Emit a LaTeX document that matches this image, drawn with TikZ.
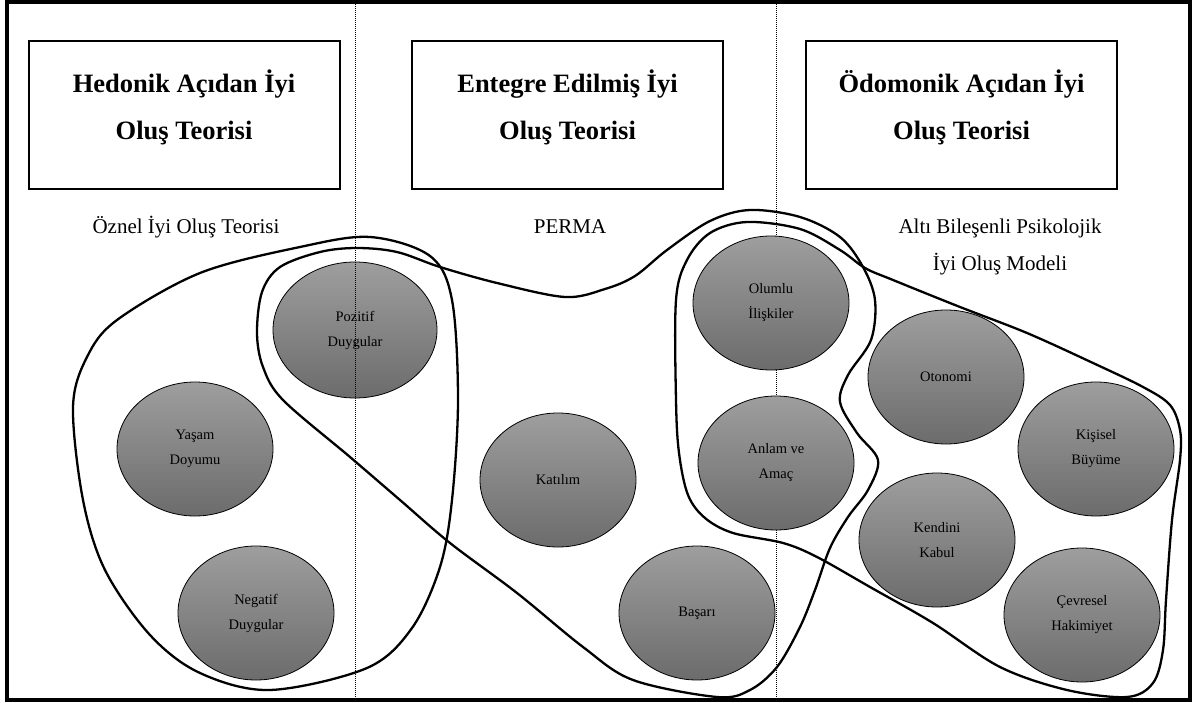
\documentclass[tikz,border=0pt]{standalone}
\usepackage{fontspec}
\setmainfont{Liberation Serif}
\usetikzlibrary{shapes.geometric}
\definecolor{gtop}{RGB}{158,158,158}
\definecolor{gbot}{RGB}{108,108,108}
\begin{document}
\begin{tikzpicture}[x=1pt,y=-1pt,
  titlebox/.style={draw, line width=2pt, minimum width=311pt, minimum height=148pt, inner sep=0pt},
  titletext/.style={font=\fontsize{26.5}{47}\selectfont\bfseries, anchor=base, inner sep=0pt},
  subtext/.style={font=\fontsize{21}{37}\selectfont, anchor=base, inner sep=0pt},
  comp/.style={ellipse, draw, line width=0.8pt, top color=gtop, bottom color=gbot, minimum width=156pt, minimum height=134pt, inner sep=0pt, align=center, font=\fontsize{14.5}{25}\selectfont},
  hull/.style={line width=2.3pt},
  sepline/.style={line width=0.8pt, dash pattern=on 1pt off 1pt}]
\useasboundingbox (0,0) rectangle (1200,703);
% frame
\draw[line width=4pt] (7,2) rectangle (1189.5,700);
% column separators (right one behind ellipses)
\coordinate (s2t) at (776,4);
\coordinate (s2b) at (776,698);
\draw[sepline] (s2t) -- (s2b);
% hulls
\draw[hull] plot[smooth cycle, tension=0.55] coordinates {
 (300,247) (370,237) (430,256) (452,300) (458,400) (452,500) (440,567) (412,628) (367,668) (270,690) (200,673) (150,635) (105,570) (83,500) (73,407) (87,357) (117,320) (200,273)};
\draw[hull] plot[smooth cycle, tension=0.55] coordinates {
 (257,333) (262,292) (280,267) (320,252) (357,248) (397,252) (440,267) (497,283) (565,297) (605,289) (635,276) (667,250) (710,221) (750,210) (800,217) (840,237) (863,267) (875,300) (871,340) (848,375) (840,402) (857,433) (878,460) (868,490) (848,517) (830,548) (815,590) (800,627) (777,667) (750,690) (717,697) (633,680) (583,647) (517,593) (450,543) (400,500) (350,457) (283,400) (263,367)};
\draw[hull] plot[smooth cycle, tension=0.55] coordinates {
 (676,300) (687,260) (710,233) (747,222) (800,229) (840,250) (865,268) (893,280) (960,307) (1027,333) (1093,363) (1143,387) (1170,405) (1180,430) (1180,460) (1172,520) (1166,600) (1163,650) (1153,683) (1127,697) (1067,690) (1000,667) (933,623) (870,587) (817,557) (783,543) (733,533) (705,518) (688,495) (679,453) (676,400)};
% components
\node[comp, minimum width=164pt, minimum height=136pt] (poz) at (355,330) {Pozitif\\Duygular};
\node[comp] (yas) at (195,449) {Yaşam\\Doyumu};
\node[comp] (neg) at (256,613) {Negatif\\Duygular};
\node[comp] (kat) at (558,480) {Katılım};
\node[comp] (bas) at (697,613) {Başarı};
\node[comp] (olu) at (771,303) {Olumlu\\İlişkiler};
\node[comp] (anl) at (776,463) {Anlam ve\\Amaç};
\node[comp] (oto) at (946,377) {Otonomi};
\node[comp] (kis) at (1096,449) {Kişisel\\Büyüme};
\node[comp] (ken) at (937,540) {Kendini\\Kabul};
\node[comp] (cev) at (1082,615) {Çevresel\\Hakimiyet};
% left separator on top
\coordinate (s1t) at (355,4);
\coordinate (s1b) at (355,698);
\draw[sepline] (s1t) -- (s1b);
% title boxes
\node[titlebox] (b1) at (184,115) {};
\node[titlebox] (b2) at (567.5,115) {};
\node[titlebox] (b3) at (961.5,115) {};
\node[titletext] (t1a) at (184,93) {Hedonik Açıdan İyi};
\node[titletext] (t1b) at (184,140) {Oluş Teorisi};
\node[titletext] (t2a) at (567.5,93) {Entegre Edilmiş İyi};
\node[titletext] (t2b) at (567.5,140) {Oluş Teorisi};
\node[titletext] (t3a) at (961.5,93) {Ödomonik Açıdan İyi};
\node[titletext] (t3b) at (961.5,140) {Oluş Teorisi};
% subtitles
\node[subtext] (u1) at (186,234) {Öznel İyi Oluş Teorisi};
\node[subtext] (u2) at (570,234) {PERMA};
\node[subtext] (u3a) at (1000,234) {Altı Bileşenli Psikolojik};
\node[subtext] (u3b) at (1000,271) {İyi Oluş Modeli};
\end{tikzpicture}
\end{document}
